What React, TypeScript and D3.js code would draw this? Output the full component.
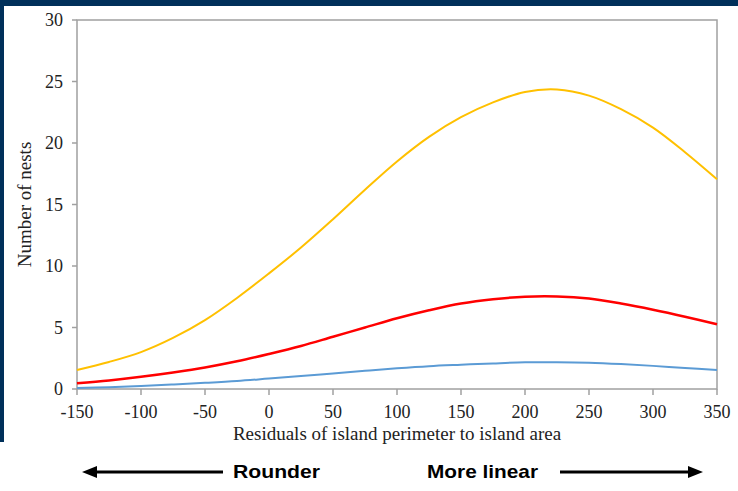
import * as d3 from "d3";

const WIDTH = 738;
const HEIGHT = 491;
const MARGIN = { top: 20, right: 21, bottom: 102, left: 77 };

// x positions (residuals), read every 25 units
const residuals = [
  -150, -125, -100, -75, -50, -25, 0, 25, 50, 75, 100, 125, 150, 175, 200, 225,
  250, 275, 300, 325, 350,
];
const yellowNests = [
  1.55, 2.2, 3.0, 4.15, 5.6, 7.4, 9.4, 11.5, 13.8, 16.2, 18.5, 20.5, 22.1, 23.3,
  24.15, 24.35, 23.85, 22.75, 21.25, 19.25, 17.05,
];
const redNests = [
  0.46, 0.7, 1.0, 1.35, 1.75, 2.25, 2.85, 3.5, 4.25, 5.0, 5.75, 6.4, 6.95, 7.3,
  7.5, 7.52, 7.35, 6.95, 6.45, 5.88, 5.26,
];
const blueNests = [
  0.08, 0.15, 0.25, 0.37, 0.5, 0.65, 0.85, 1.05, 1.27, 1.48, 1.68, 1.85, 1.97,
  2.08, 2.17, 2.18, 2.14, 2.03, 1.88, 1.7, 1.55,
];
const xTicks = [-150, -100, -50, 0, 50, 100, 150, 200, 250, 300, 350];
const yTicks = [0, 5, 10, 15, 20, 25, 30];

const series = [
  { name: "yellow", values: yellowNests, color: "#FFC000", width: 2 },
  { name: "red", values: redNests, color: "#FF0000", width: 2.5 },
  { name: "blue", values: blueNests, color: "#5B9BD5", width: 2 },
];

const NAVY = "#00305A";
const AXIS = "#A0A0A0";
const SERIF = "'Liberation Serif', 'Times New Roman', serif";
const SANS = "'Liberation Sans', Arial, sans-serif";

export default function App() {
  const x0 = MARGIN.left;
  const x1 = WIDTH - MARGIN.right;
  const y0 = HEIGHT - MARGIN.bottom;
  const y1 = MARGIN.top;

  const xScale = d3.scaleLinear().domain([-150, 350]).range([x0, x1]);
  const yScale = d3.scaleLinear().domain([0, 30]).range([y0, y1]);

  const line = d3
    .line<number>()
    .x((_, i) => xScale(residuals[i]))
    .y((d) => yScale(d))
    .curve(d3.curveCatmullRom.alpha(0.5));

  const arrowY = 472;

  return (
    <svg
      width={WIDTH}
      height={HEIGHT}
      style={{ position: "fixed", left: 0, top: 0, display: "block" }}
    >
      <rect width={WIDTH} height={HEIGHT} fill="#fff" />
      <rect width={WIDTH} height={6} fill={NAVY} />
      <rect width={4} height={442} fill={NAVY} />

      {/* plot box */}
      <rect
        x={x0}
        y={y1}
        width={x1 - x0}
        height={y0 - y1}
        fill="none"
        stroke={AXIS}
        strokeWidth={1.5}
      />

      {yTicks.map((t) => (
        <g key={"y" + t}>
          <line x1={x0 - 5} x2={x0} y1={yScale(t)} y2={yScale(t)} stroke={AXIS} strokeWidth={1.5} />
          <text
            x={x0 - 14}
            y={yScale(t)}
            dy="0.34em"
            textAnchor="end"
            fontFamily={SERIF}
            fontSize={18}
            fill="#222"
          >
            {t}
          </text>
        </g>
      ))}

      {xTicks.map((t) => (
        <g key={"x" + t}>
          <line x1={xScale(t)} x2={xScale(t)} y1={y0} y2={y0 + 6} stroke={AXIS} strokeWidth={1.5} />
          <text
            x={xScale(t)}
            y={418}
            textAnchor="middle"
            fontFamily={SERIF}
            fontSize={18}
            fill="#222"
          >
            {t}
          </text>
        </g>
      ))}

      {series.map((s) => (
        <path
          key={s.name}
          d={line(s.values) ?? ""}
          fill="none"
          stroke={s.color}
          strokeWidth={s.width}
        />
      ))}

      <text
        x={(x0 + x1) / 2}
        y={440}
        textAnchor="middle"
        fontFamily={SERIF}
        fontSize={19}
        fill="#222"
      >
        Residuals of island perimeter to island area
      </text>
      <text
        transform={`translate(31, ${(y0 + y1) / 2}) rotate(-90)`}
        textAnchor="middle"
        fontFamily={SERIF}
        fontSize={19}
        fill="#222"
      >
        Number of nests
      </text>

      {/* direction arrows */}
      <line x1={96} x2={223} y1={arrowY} y2={arrowY} stroke="#000" strokeWidth={3} />
      <path d={`M82,${arrowY} L97,${arrowY - 6} L97,${arrowY + 6} Z`} fill="#000" />
      <text x={233} y={478} fontFamily={SANS} fontWeight="bold" fontSize={19} textLength={87} lengthAdjust="spacingAndGlyphs">
        Rounder
      </text>
      <text x={427} y={478} fontFamily={SANS} fontWeight="bold" fontSize={19} textLength={111} lengthAdjust="spacingAndGlyphs">
        More linear
      </text>
      <line x1={560} x2={689} y1={arrowY} y2={arrowY} stroke="#000" strokeWidth={3} />
      <path d={`M703,${arrowY} L688,${arrowY - 6} L688,${arrowY + 6} Z`} fill="#000" />
    </svg>
  );
}
